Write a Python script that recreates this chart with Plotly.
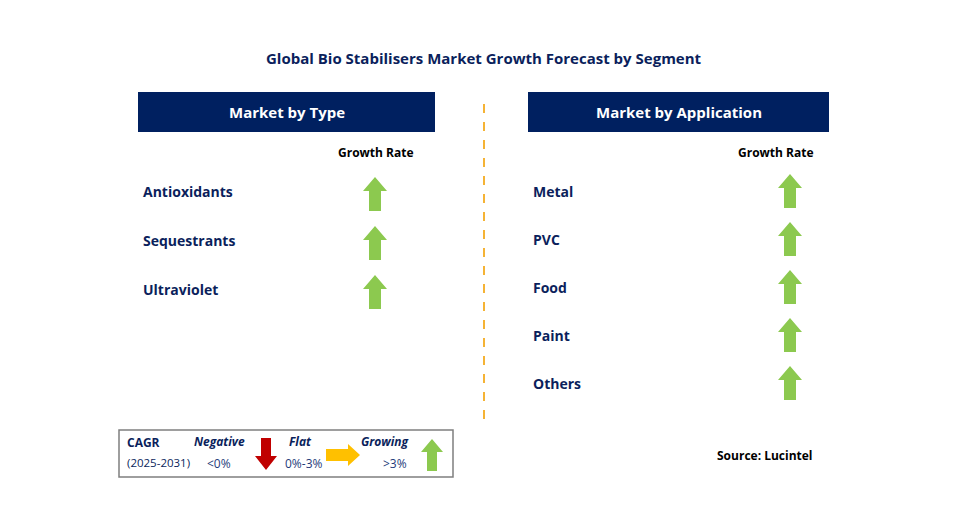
import plotly.graph_objects as go

title = "Global Bio Stabilisers Market Growth Forecast by Segment"
type_header = "Market by Type"
app_header = "Market by Application"
type_cats = ["Antioxidants", "Sequestrants", "Ultraviolet"]
type_trend = ["Growing", "Growing", "Growing"]
app_cats = ["Metal", "PVC", "Food", "Paint", "Others"]
app_trend = ["Growing", "Growing", "Growing", "Growing", "Growing"]
source = "Source: Lucintel"

NAVY = "#0b1f5c"
GREEN = "#8cc94f"
RED = "#c00000"
ORANGE = "#ffc000"
FONT = "Open Sans"

fig = go.Figure()
shapes = []
ann = []

def up_arrow(cx, cy, color, w=24, h=34, stem=12, head=14):
    t = cy - h/2; b = cy + h/2
    return dict(type="path", fillcolor=color, line=dict(width=0),
                path=f"M{cx},{t} L{cx+w/2},{t+head} L{cx+stem/2},{t+head} L{cx+stem/2},{b} "
                     f"L{cx-stem/2},{b} L{cx-stem/2},{t+head} L{cx-w/2},{t+head} Z")

def down_arrow(cx, cy, color, w=24, h=34, stem=12, head=14):
    t = cy - h/2; b = cy + h/2
    return dict(type="path", fillcolor=color, line=dict(width=0),
                path=f"M{cx},{b} L{cx+w/2},{b-head} L{cx+stem/2},{b-head} L{cx+stem/2},{t} "
                     f"L{cx-stem/2},{t} L{cx-stem/2},{b-head} L{cx-w/2},{b-head} Z")

def right_arrow(cx, cy, color, w=36, h=20, stem=10, head=12):
    l = cx - w/2; r = cx + w/2
    return dict(type="path", fillcolor=color, line=dict(width=0),
                path=f"M{r},{cy} L{r-head},{cy-h/2} L{r-head},{cy-stem/2} L{l},{cy-stem/2} "
                     f"L{l},{cy+stem/2} L{r-head},{cy+stem/2} L{r-head},{cy+h/2} Z")

def txt(x, y, s, size=14, color=NAVY, bold=True, anchor="left", italic=False):
    if bold: s = f"<b>{s}</b>"
    if italic: s = f"<i>{s}</i>"
    ann.append(dict(x=x, y=y, xref="x", yref="y", text=s, showarrow=False,
                    xanchor=anchor, yanchor="middle",
                    font=dict(family=FONT, size=size, color=color)))

txt(484, 58, title, size=15, anchor="center")

for x0, x1, h in [(138, 435, type_header), (528, 829, app_header)]:
    shapes.append(dict(type="rect", x0=x0, x1=x1, y0=92, y1=132, fillcolor="#002060", line=dict(width=0)))
    txt((x0+x1)/2, 112, h, size=15, color="white", anchor="center")

txt(376, 152, "Growth Rate", size=12, color="black", anchor="center")
txt(776, 152, "Growth Rate", size=12, color="black", anchor="center")

arrow_for = {"Growing": lambda cx, cy: up_arrow(cx, cy, GREEN),
             "Negative": lambda cx, cy: down_arrow(cx, cy, RED),
             "Flat": lambda cx, cy: right_arrow(cx, cy, ORANGE)}

for i, (c, t) in enumerate(zip(type_cats, type_trend)):
    y = 191 + i*49
    txt(141, y, c, size=14)
    shapes.append(arrow_for[t](375, y + 3))
for i, (c, t) in enumerate(zip(app_cats, app_trend)):
    y = 191 + i*48
    txt(531, y, c, size=14)
    shapes.append(arrow_for[t](790, y))

shapes.append(dict(type="line", x0=484, x1=484, y0=104, y1=422,
                   line=dict(color="#f5b335", width=2, dash="dash")))

shapes.append(dict(type="rect", x0=119, x1=453, y0=430, y1=477, fillcolor="white",
                   line=dict(color="#7f7f7f", width=1.5)))
txt(125, 442, "CAGR", size=12)
txt(125, 462, "(2025-2031)", size=11.5, bold=False)
txt(219, 441, "Negative", size=12, italic=True, anchor="center")
txt(219, 463, "&lt;0%", size=12, bold=False, color="#1f3b7a", anchor="center")
shapes.append(down_arrow(266, 454, RED, w=22, h=32, stem=10, head=14))
txt(300, 441, "Flat", size=12, italic=True, anchor="center")
txt(304, 463, "0%-3%", size=12, bold=False, color="#1f3b7a", anchor="center")
shapes.append(right_arrow(343, 455, ORANGE, w=34, h=22, stem=12, head=12))
txt(385, 441, "Growing", size=12, italic=True, anchor="center")
txt(395, 463, "&gt;3%", size=12, bold=False, color="#1f3b7a", anchor="center")
shapes.append(up_arrow(432, 455, GREEN, w=22, h=32, stem=10, head=13))

txt(765, 455, source, size=12, color="black", anchor="center")

fig.update_layout(width=957, height=524, margin=dict(l=0, r=0, t=0, b=0),
                  paper_bgcolor="white", plot_bgcolor="white",
                  shapes=shapes, annotations=ann, showlegend=False,
                  xaxis=dict(range=[8, 965], visible=False, fixedrange=True),
                  yaxis=dict(range=[532, 8], visible=False, fixedrange=True))
fig.write_html("out.html")
